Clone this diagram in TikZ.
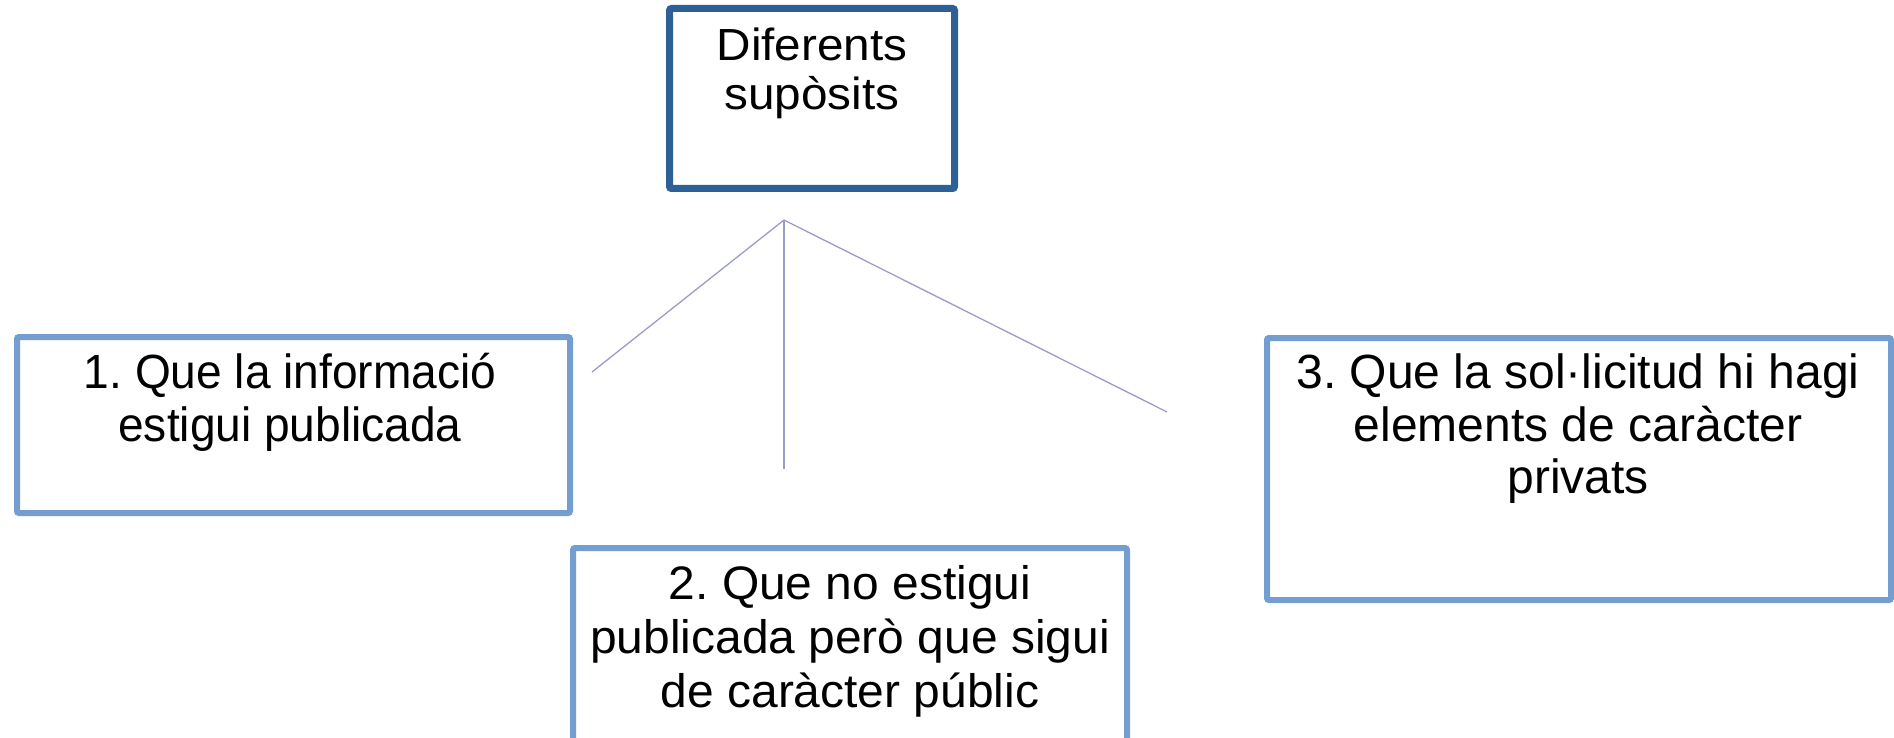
\documentclass[tikz,border=0pt]{standalone}
\usepackage{fontspec}
\setmainfont{Liberation Sans}
\newfontfamily\fonttop[FakeStretch=1.06]{Liberation Sans}
\newfontfamily\fontone[FakeStretch=0.96]{Liberation Sans}
\newfontfamily\fonttwo[FakeStretch=1.02]{Liberation Sans}
\newfontfamily\fontthree{Liberation Sans}
\frenchspacing
\definecolor{darkbox}{RGB}{46,96,152}
\definecolor{lightbox}{RGB}{115,158,207}
\definecolor{linkcol}{RGB}{155,155,200}
\newcommand\firststrut{\rule{0pt}{50pt}}
\tikzset{
  boxstyle/.style={draw, line width=6pt, rounded corners=2pt, fill=white},
  topbox/.style={boxstyle, draw=darkbox, line width=7pt},
  subbox/.style={boxstyle, draw=lightbox},
  boxtext/.style={anchor=north, align=center, inner sep=0pt},
  link/.style={draw=linkcol, line width=1.3pt}
}
\begin{document}
\begin{tikzpicture}[x=1pt,y=-1pt]
\useasboundingbox (0,0) rectangle (1894,738);
% boxes
\draw[topbox] (669.5,8.5) rectangle (954.5,188.5);
\draw[subbox] (17,337) rectangle (570,513);
\draw[subbox] (573,548) rectangle (1127,760);
\draw[subbox] (1267,338) rectangle (1891,600);
% texts
\node[boxtext, font=\fonttop\frenchspacing\fontsize{45}{49}\selectfont] (t0) at (812,10.5) {\firststrut Diferents\\supòsits};
\node[boxtext, font=\fontone\frenchspacing\fontsize{48}{52.5}\selectfont] (t1) at (290,338.3) {\firststrut 1. Que la informació\\estigui publicada};
\node[boxtext, font=\fonttwo\frenchspacing\fontsize{47}{54}\selectfont] (t2) at (850,549.3) {\firststrut 2. Que no estigui\\publicada però que sigui\\de caràcter públic};
\node[boxtext, font=\fontthree\frenchspacing\fontsize{48}{52.5}\selectfont] (t3) at (1578,338.3) {\firststrut 3. Que la sol·licitud hi hagi\\elements de caràcter\\privats};
% connectors
\coordinate (apex) at (784,220);
\coordinate (e1) at (592,372);
\coordinate (e2) at (784,469);
\coordinate (e3) at (1167,412);
\draw[link] (apex) -- (e1);
\draw[link] (apex) -- (e2);
\draw[link] (apex) -- (e3);
\end{tikzpicture}
\end{document}
